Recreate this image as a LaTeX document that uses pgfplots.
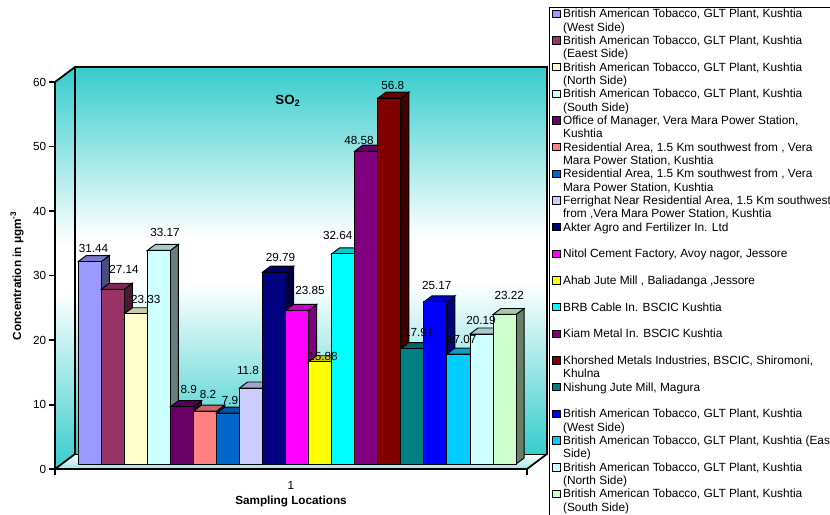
\documentclass[border=0pt]{standalone}
\usepackage{fontspec}
\setmainfont{Liberation Sans}
\usepackage{pgfplots}
\pgfplotsset{compat=1.18}

% Bar fills, first to last sampling location
\definecolor{c1}{HTML}{9999FF}
\definecolor{c2}{HTML}{993366}
\definecolor{c3}{HTML}{FFFFCC}
\definecolor{c4}{HTML}{CCFFFF}
\definecolor{c5}{HTML}{660066}
\definecolor{c6}{HTML}{FF8080}
\definecolor{c7}{HTML}{0066CC}
\definecolor{c8}{HTML}{CCCCFF}
\definecolor{c9}{HTML}{000080}
\definecolor{c10}{HTML}{FF00FF}
\definecolor{c11}{HTML}{FFFF00}
\definecolor{c12}{HTML}{00FFFF}
\definecolor{c13}{HTML}{800080}
\definecolor{c14}{HTML}{800000}
\definecolor{c15}{HTML}{008080}
\definecolor{c16}{HTML}{0000FF}
\definecolor{c17}{HTML}{00CCFF}
\definecolor{c18}{HTML}{CCFFFF}
\definecolor{c19}{HTML}{CCFFCC}
\definecolor{wallteal}{HTML}{36CCCC}

% Wall gradient: teal at both ends, white through the middle.
% A path is fitted to the central 25bp-75bp band of the shading.
\pgfdeclareverticalshading{wallshade}{100bp}{
  color(0bp)=(wallteal); color(25bp)=(wallteal);
  color(47bp)=(white); color(53bp)=(white);
  color(75bp)=(wallteal); color(100bp)=(wallteal)}

% Legend text: two lines in a box of fixed height, sitting on the row's baseline,
% so every row has the same step
\newcommand{\legtext}[2]{\parbox[b][20pt][t]{205pt}{\strut #1\\\strut #2}}

% One bar: colour, left edge, value, legend text. Depth of 8 x units, 0.93 y units.
\newcommand{\threedbar}[4]{%
  \pgfmathsetmacro{\xa}{#2}%
  \pgfmathsetmacro{\xb}{#2+23.04}%
  \pgfmathsetmacro{\xc}{#2+31.04}%
  \pgfmathsetmacro{\xm}{#2+8}%
  \pgfmathsetmacro{\xmid}{#2+11.52}%
  \pgfmathsetmacro{\vt}{#3+0.93}%
  \pgfmathsetmacro{\zt}{0.93}%
  \addplot[forget plot, draw=black, line width=.7pt, fill=#1!50!black]
    coordinates {(\xb,0) (\xb,#3) (\xc,\vt) (\xc,\zt)} -- cycle;
  \addplot[forget plot, draw=black, line width=.7pt, fill=#1!80!black]
    coordinates {(\xa,#3) (\xm,\vt) (\xc,\vt) (\xb,#3)} -- cycle;
  \addplot[ybar, bar width=23.04, bar shift=0pt, draw=black, line width=.7pt, fill=#1, legsq]
    coordinates {(\xmid,#3)};
  \addlegendentry{#4}%
}
\newcommand{\barlabel}[3]{%
  \node[font=\fontsize{8.8}{10}\selectfont, inner sep=0pt]
    at (axis cs:#2,{(464-#3)/6.44}) {#1};%
}

\pgfplotsset{
  legsq/.style={legend image code/.code={
    \draw[draw=black, line width=.6pt, fill=##1] (0pt,13.2pt) rectangle (5.6pt,18.8pt);}},
}

\begin{document}
\begin{tikzpicture}
\useasboundingbox (0,0) rectangle (622.5pt,385.5pt);

% Walls and floor of the chart box
\begin{scope}[x=0.75pt,y=-0.75pt,shift={(0pt,385.5pt)}]
  \shade[shading=wallshade] (75,67) rectangle (547,454);
  \shade[shading=wallshade] (55,82) -- (75,67) -- (75,454) -- (55,469) -- cycle;
  \shade[top color=white, bottom color=wallteal!50!white] (55,469) -- (75,454) -- (547,454) -- (527,469) -- cycle;
  \draw[line width=1.3pt, line join=miter] (55,82) -- (75,67) -- (547,67) -- (547,454) -- (527,469);
  \draw[line width=1.3pt] (75,67) -- (75,454) -- (55,469);
  \draw[line width=.7pt] (75,454) -- (547,454);
\end{scope}

% Value axis and category axis on the front edges
\begin{axis}[
  at={(41.25pt,33.6pt)}, anchor=south west,
  width=354pt, height=290.25pt, scale only axis,
  xmin=0, xmax=1, ymin=0, ymax=60,
  axis y line*=left, axis x line*=bottom,
  axis line style={line width=1.5pt, black},
  ytick={0,10,...,60},
  xtick={0,1}, xticklabels={,},
  extra x ticks={0.5}, extra x tick labels={1},
  extra x tick style={major tick length=0pt, tick label style={yshift=-7pt}},
  tick style={line width=1.2pt, black},
  major tick length=4.5pt,
  tick align=outside,
  /pgf/number format/assume math mode=true,
  tick label style={font=\fontsize{8.8}{10}\selectfont, inner sep=2pt},
  xlabel={Sampling Locations},
  ylabel={Concentration in μgm\textsuperscript{-3}},
  label style={font=\bfseries\fontsize{8.8}{10}\selectfont},
  xlabel style={at={(axis description cs:0.5,0)}, anchor=center, yshift=-24.5pt},
  ylabel style={at={(axis description cs:0,0.5)}, anchor=center, yshift=28.5pt},
]
\end{axis}

% Bars, drawn left to right so each front face covers the previous side face
\begin{axis}[
  at={(0pt,0pt)}, anchor=south west,
  width=622.5pt, height=385.5pt, scale only axis,
  xmin=0, xmax=830, ymin=-7.764, ymax=72.05,
  axis lines=none, clip=false,
  legend style={
    at={(axis cs:549,72.05)}, anchor=north west, yshift=-5pt,
    draw=black, line width=.75pt, fill=white,
    inner xsep=2pt, inner ysep=1pt, row sep=0pt,
    font=\fontsize{8.9}{10}\selectfont,
    nodes={inner sep=0pt, text depth=0pt},
    cells={anchor=base west},
    /tikz/column 1/.style={column sep=2pt},
  },
]
\threedbar{c1}{78.3}{31.44}{\legtext{British American Tobacco, GLT Plant, Kushtia}{(West Side)}}
\threedbar{c2}{101.34}{27.14}{\legtext{British American Tobacco, GLT Plant, Kushtia}{(Eaest Side)}}
\threedbar{c3}{124.38}{23.33}{\legtext{British American Tobacco, GLT Plant, Kushtia}{(North Side)}}
\threedbar{c4}{147.42}{33.17}{\legtext{British American Tobacco, GLT Plant, Kushtia}{(South Side)}}
\threedbar{c5}{170.46}{8.9}{\legtext{Office of Manager, Vera Mara Power Station,}{Kushtia}}
\threedbar{c6}{193.5}{8.2}{\legtext{Residential Area, 1.5 Km southwest from , Vera}{Mara Power Station, Kushtia}}
\threedbar{c7}{216.54}{7.9}{\legtext{Residential Area, 1.5 Km southwest from , Vera}{Mara Power Station, Kushtia}}
\threedbar{c8}{239.58}{11.8}{\legtext{Ferrighat Near Residential Area, 1.5 Km southwest}{from ,Vera Mara Power Station, Kushtia}}
\threedbar{c9}{262.62}{29.79}{\legtext{Akter Agro and Fertilizer In. Ltd}{}}
\threedbar{c10}{285.66}{23.85}{\legtext{Nitol Cement Factory, Avoy nagor, Jessore}{}}
\threedbar{c11}{308.7}{15.88}{\legtext{Ahab Jute Mill , Baliadanga ,Jessore}{}}
\threedbar{c12}{331.74}{32.64}{\legtext{BRB Cable In. BSCIC Kushtia}{}}
\threedbar{c13}{354.78}{48.58}{\legtext{Kiam Metal In. BSCIC Kushtia}{}}
\threedbar{c14}{377.82}{56.8}{\legtext{Khorshed Metals Industries, BSCIC, Shiromoni,}{Khulna}}
\threedbar{c15}{400.86}{17.91}{\legtext{Nishung Jute Mill, Magura}{}}
\threedbar{c16}{423.9}{25.17}{\legtext{British American Tobacco, GLT Plant, Kushtia}{(West Side)}}
\threedbar{c17}{446.94}{17.07}{\legtext{British American Tobacco, GLT Plant, Kushtia (Eas}{Side)}}
\threedbar{c18}{469.98}{20.19}{\legtext{British American Tobacco, GLT Plant, Kushtia}{(North Side)}}
\threedbar{c19}{493.02}{23.22}{\legtext{British American Tobacco, GLT Plant, Kushtia}{(South Side)}}

% Value labels, placed by horizontal position and vertical pixel row
\barlabel{31.44}{93.5}{248}
\barlabel{27.14}{124}{269}
\barlabel{23.33}{145.7}{299}
\barlabel{33.17}{165}{232.7}
\barlabel{8.9}{188.7}{389}
\barlabel{8.2}{208}{394}
\barlabel{7.9}{230}{400}
\barlabel{11.8}{248}{370}
\barlabel{29.79}{280.5}{257}
\barlabel{23.85}{310}{290}
\barlabel{15.88}{323}{356}
\barlabel{32.64}{337.7}{235}
\barlabel{48.58}{359}{140}
\barlabel{56.8}{392.7}{85}
\barlabel{17.91}{418.7}{332}
\barlabel{25.17}{436.7}{285}
\barlabel{17.07}{461.7}{339}
\barlabel{20.19}{481}{320.7}
\barlabel{23.22}{509.3}{295}

% Pollutant name inside the back wall
\node[font=\bfseries\fontsize{10}{11}\selectfont, inner sep=0pt]
  at (axis cs:288,{(464-101)/6.44}) {SO\textsubscript{2}};
\end{axis}
\end{tikzpicture}
\end{document}
